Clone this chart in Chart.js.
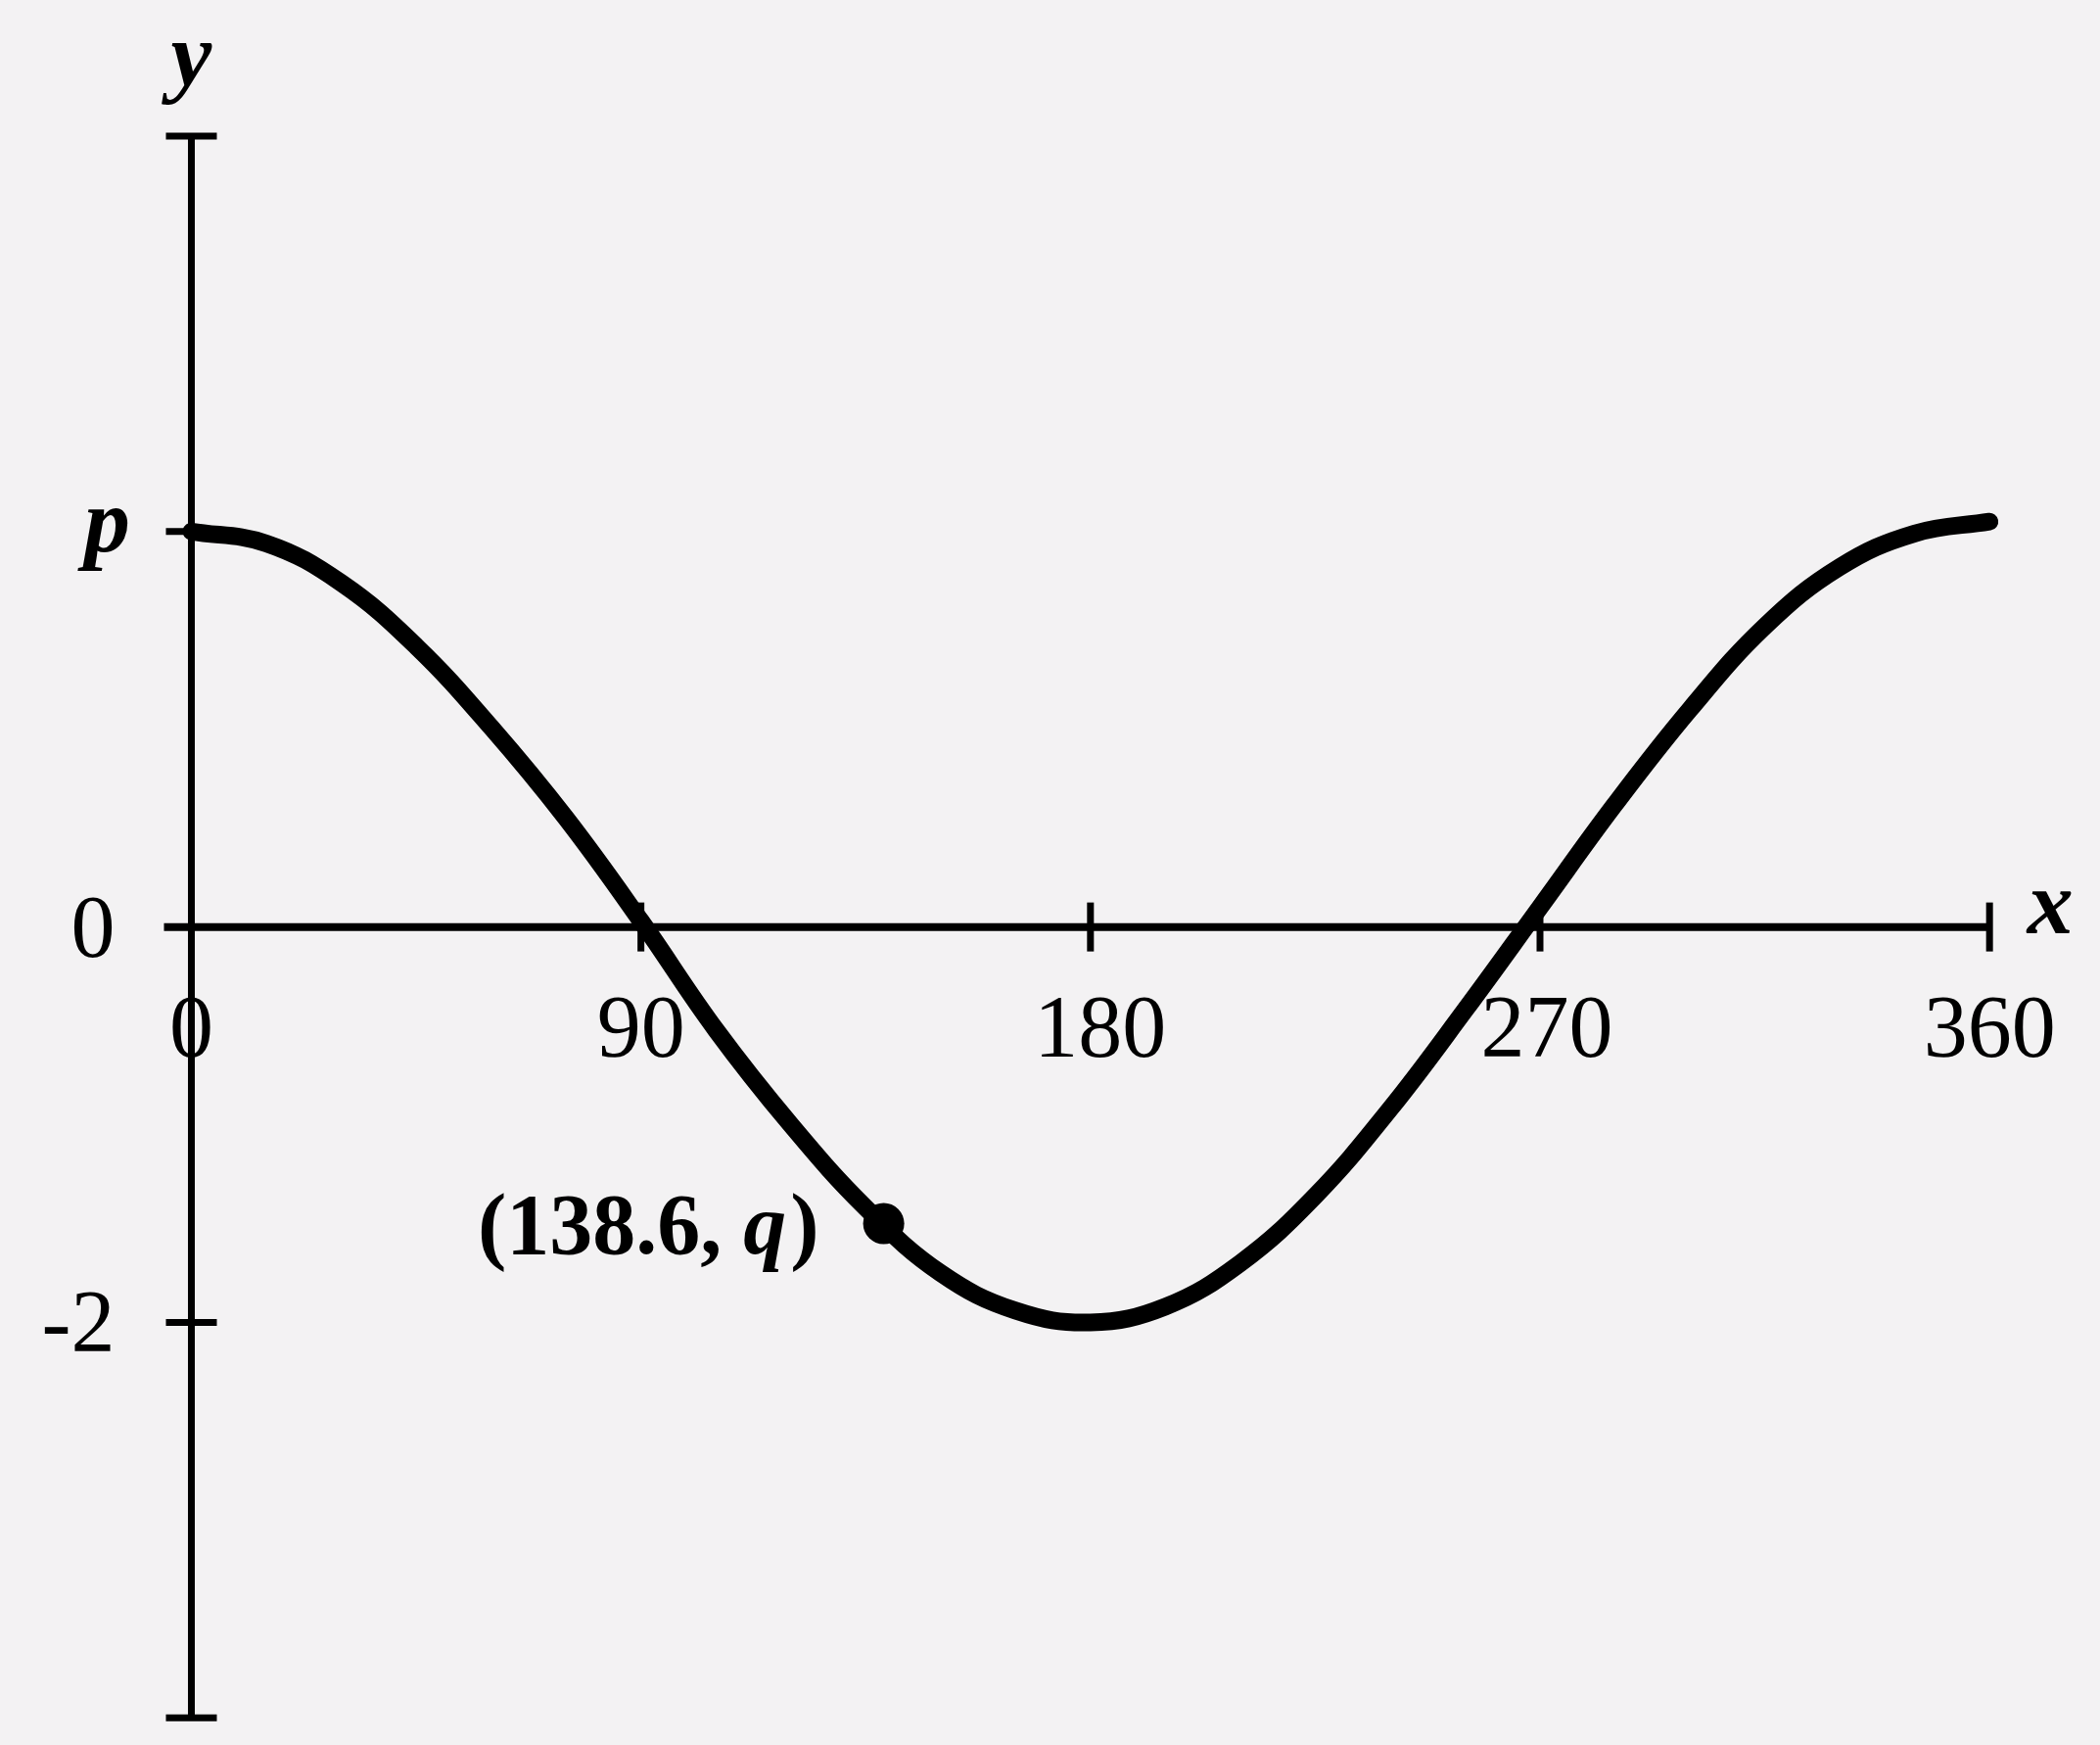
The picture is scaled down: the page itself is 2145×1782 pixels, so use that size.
<!DOCTYPE html>
<html>
<head>
<meta charset="utf-8">
<script src="https://cdn.jsdelivr.net/npm/chart.js@4"></script>
<style>
  body { margin: 0; background: #f3f2f3; font-family: "Liberation Serif", "Times New Roman", serif; }
  canvas { display: block; }
</style>
</head>
<body>
<canvas id="graf" width="2145" height="1782"></canvas>
<script>
// valori (x in gradi)
const xValues = [0, 15, 30, 45, 60, 75, 90, 105, 120, 135, 150, 165, 180,
                 195, 210, 225, 240, 255, 270, 285, 300, 315, 330, 345, 360];
const yValues = [2.00, 1.94, 1.74, 1.42, 1.01, 0.55, 0.03, -0.52, -1.00, -1.42, -1.75, -1.94, -2.00,
                 -1.92, -1.70, -1.36, -0.92, -0.42, 0.10, 0.62, 1.10, 1.52, 1.82, 1.99, 2.05];

const xTicks = [0, 90, 180, 270, 360];
const xTickLabels = ['0', '90', '180', '270', '360'];
const yTicks = [4, 2, 0, -2, -4];
const yTickLabels = ['', 'p', '0', '-2', ''];

const puntoX = 138.6;
const puntoQ = -1.5;
const puntoEtichetta = '(138.6, ';

const serif = '"Liberation Serif", "Times New Roman", Times, serif';

let curva = xValues.map((x, i) => ({ x: x, y: yValues[i] }));

// sfondo carta
const sfondo = {
    id: 'sfondo',
    beforeDraw(chart) {
        let ctx = chart.ctx;
        ctx.save();
        ctx.fillStyle = '#f3f2f3';
        ctx.fillRect(0, 0, chart.width, chart.height);
        ctx.restore();
    }
};

// assi disegnati a mano attraverso le scale
const assi = {
    id: 'assi',
    beforeDatasetsDraw(chart) {
        let ctx = chart.ctx;
        let sx = chart.scales.x;
        let sy = chart.scales.y;
        let x0 = sx.getPixelForValue(0);
        let y0 = sy.getPixelForValue(0);
        ctx.save();
        ctx.strokeStyle = '#000';
        ctx.lineCap = 'butt';

        // asse y
        ctx.lineWidth = 7;
        ctx.beginPath();
        ctx.moveTo(x0, sy.getPixelForValue(4));
        ctx.lineTo(x0, sy.getPixelForValue(-4));
        ctx.stroke();

        // asse x
        ctx.lineWidth = 8;
        ctx.beginPath();
        ctx.moveTo(x0 - 28, y0);
        ctx.lineTo(sx.getPixelForValue(360), y0);
        ctx.stroke();

        // tacche asse y
        ctx.lineWidth = 7;
        yTicks.forEach(v => {
            if (v === 0) return;
            let py = sy.getPixelForValue(v);
            ctx.beginPath();
            ctx.moveTo(x0 - 26, py);
            ctx.lineTo(x0 + 26, py);
            ctx.stroke();
        });

        // tacche asse x
        xTicks.forEach(v => {
            if (v === 0) return;
            let px = sx.getPixelForValue(v);
            ctx.beginPath();
            ctx.moveTo(px, y0 - 25);
            ctx.lineTo(px, y0 + 25);
            ctx.stroke();
        });
        ctx.restore();
    },
    afterDatasetsDraw(chart) {
        let ctx = chart.ctx;
        let sx = chart.scales.x;
        let sy = chart.scales.y;
        let x0 = sx.getPixelForValue(0);
        let y0 = sy.getPixelForValue(0);
        ctx.save();
        ctx.fillStyle = '#000';

        // etichette asse x
        ctx.font = '90px ' + serif;
        ctx.textAlign = 'center';
        ctx.textBaseline = 'alphabetic';
        xTicks.forEach((v, i) => {
            let px = sx.getPixelForValue(v);
            let off = v === 180 ? 10 : (v === 270 ? 7 : 0);
            ctx.fillText(xTickLabels[i], px + off, y0 + 132);
        });

        // etichette asse y
        yTicks.forEach((v, i) => {
            let lab = yTickLabels[i];
            if (!lab) return;
            let py = sy.getPixelForValue(v);
            if (lab === 'p') {
                ctx.font = 'italic bold 94px ' + serif;
                ctx.textAlign = 'center';
                ctx.fillText(lab, x0 - 86, py + 20);
            } else {
                ctx.font = '90px ' + serif;
                ctx.textAlign = 'right';
                ctx.fillText(lab, x0 - 78, py + 30);
            }
        });

        // nomi degli assi
        ctx.font = 'italic bold 94px ' + serif;
        ctx.textAlign = 'center';
        ctx.fillText('y', x0, sy.getPixelForValue(4) - 52);
        ctx.fillText('x', sx.getPixelForValue(360) + 62, y0 + 6);

        // etichetta del punto
        let ppx = sx.getPixelForValue(puntoX);
        let ppy = sy.getPixelForValue(puntoQ);
        ctx.textAlign = 'left';
        ctx.font = 'bold 88px ' + serif;
        let w1 = ctx.measureText(puntoEtichetta).width;
        ctx.font = 'italic bold 88px ' + serif;
        let w2 = ctx.measureText('q').width;
        ctx.font = 'bold 88px ' + serif;
        let w3 = ctx.measureText(')').width;
        let start = ppx - 70 - (w1 + w2 + w3);
        let base = ppy + 30;
        ctx.fillText(puntoEtichetta, start, base);
        ctx.font = 'italic bold 88px ' + serif;
        ctx.fillText('q', start + w1, base);
        ctx.font = 'bold 88px ' + serif;
        ctx.fillText(')', start + w1 + w2 + 4, base);
        ctx.restore();
    }
};

async function disegna() {
    try {
        await Promise.all([
            document.fonts.load('90px "Liberation Serif"'),
            document.fonts.load('bold 90px "Liberation Serif"'),
            document.fonts.load('italic bold 90px "Liberation Serif"')
        ]);
    } catch (e) {
        console.info(e);
    }

    new Chart(document.getElementById('graf').getContext('2d'), {
        type: 'scatter',
        data: {
            datasets: [{
                data: curva,
                showLine: true,
                borderColor: '#000',
                borderWidth: 18,
                borderCapStyle: 'round',
                borderJoinStyle: 'round',
                pointRadius: 0,
                tension: 0.4,
                clip: false
            }, {
                data: [{ x: puntoX, y: puntoQ }],
                pointRadius: 21,
                backgroundColor: '#000',
                borderColor: '#000',
                borderWidth: 0,
                clip: false
            }]
        },
        options: {
            responsive: false,
            animation: false,
            devicePixelRatio: 1,
            layout: { padding: 0 },
            scales: {
                x: { type: 'linear', display: false, min: -34.2, max: 378.0 },
                y: { type: 'linear', display: false, min: -4.033, max: 4.584 }
            },
            plugins: {
                legend: { display: false },
                tooltip: { enabled: false }
            }
        },
        plugins: [sfondo, assi]
    });
}

disegna();
</script>
</body>
</html>
